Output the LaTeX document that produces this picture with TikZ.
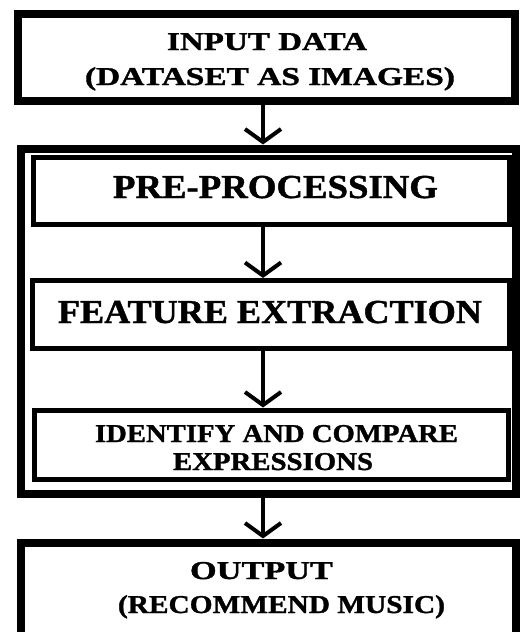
\documentclass[tikz,border=0pt]{standalone}
\usepackage{fontspec}
\usepackage{graphicx}
\setmainfont{Liberation Serif}[BoldFeatures={FakeBold=1.2}]
\usetikzlibrary{arrows.meta}
\newcommand\fitw[2]{\resizebox{#1}{\height}{#2}}
\tikzset{
  thickbox/.style={draw, line width=8pt, inner sep=0pt, fill=none},
  thinbox/.style={draw, line width=5pt, inner sep=0pt},
  flowarrow/.style={line width=4pt, -{Straight Barb[length=13pt,width=36pt]}},
  smalltext/.style={anchor=base, inner sep=0pt, font=\bfseries\fontsize{25.7}{30}\selectfont},
  bigtext/.style={anchor=base, inner sep=0pt, font=\bfseries\fontsize{33.5}{40}\selectfont},
}
\begin{document}
\begin{tikzpicture}[x=1pt, y=-1pt]
\useasboundingbox (0,0) rectangle (521,632);
\clip (0,0) rectangle (521,632);
\fill[white] (0,0) rectangle (521,632);
% boxes
\node[thickbox, minimum width=497pt, minimum height=87pt] (inp) at (266.5,57.5) {};
\node[thickbox, minimum width=495pt, minimum height=345.5pt] (outer) at (268.5,321.25) {};
\node[thinbox, minimum width=476.5pt, minimum height=67.5pt] (pre) at (271.25,190.75) {};
\node[thinbox, minimum width=477.5pt, minimum height=68pt] (feat) at (270.75,314.5) {};
\node[thinbox, minimum width=473.5pt, minimum height=69.5pt] (ident) at (271.25,444.75) {};
\node[thickbox, minimum width=495pt, minimum height=107.5pt] (out) at (268.5,596.25) {};
% arrow column
\coordinate (ax) at (263,0);
\draw[flowarrow] (inp.south -| ax) -- (outer.north -| ax);
\draw[flowarrow] (pre.south -| ax) -- (feat.north -| ax);
\draw[flowarrow] (feat.south -| ax) -- (ident.north -| ax);
\draw[flowarrow] (outer.south -| ax) -- (out.north -| ax);
% texts
\node[smalltext] (t1) at (267,50) {\fitw{200pt}{INPUT DATA}};
\node[smalltext] (t2) at (270,85) {\fitw{370pt}{(DATASET AS IMAGES)}};
\node[bigtext] (t3) at (275.5,198) {\fitw{325pt}{PRE-PROCESSING}};
\node[bigtext] (t4) at (270,323) {\fitw{424pt}{FEATURE EXTRACTION}};
\node[smalltext] (t5) at (276.5,442) {\fitw{363pt}{IDENTIFY AND COMPARE}};
\node[smalltext] (t6) at (273,470) {\fitw{200pt}{EXPRESSIONS}};
\node[smalltext] (t7) at (261.5,579) {\fitw{143pt}{OUTPUT}};
\node[smalltext] (t8) at (281.5,613) {\fitw{327pt}{(RECOMMEND MUSIC)}};
\end{tikzpicture}
\end{document}
